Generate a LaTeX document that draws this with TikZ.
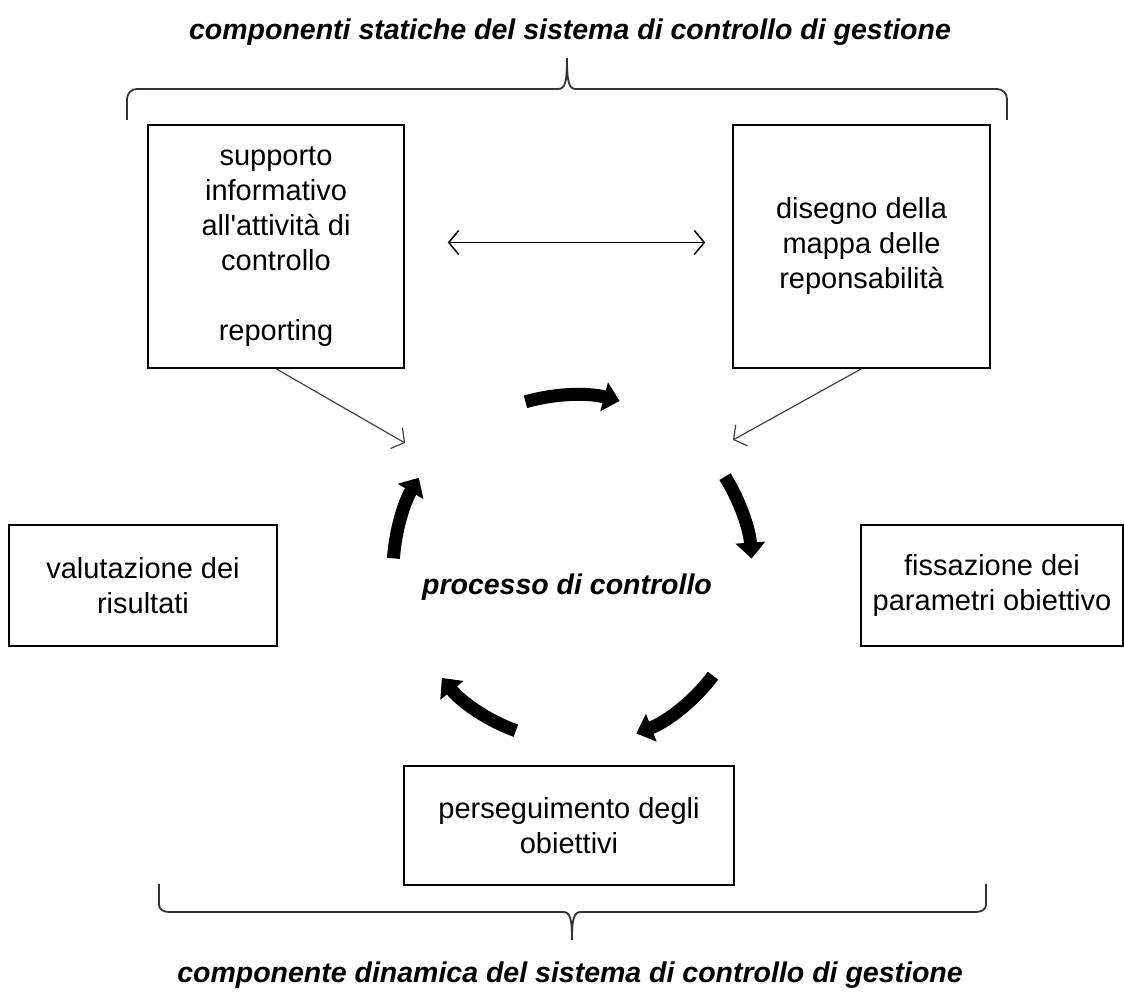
\documentclass[tikz,border=0pt]{standalone}
\usepackage{fontspec}
\setmainfont{Liberation Sans}
\usetikzlibrary{arrows.meta}

\tikzset{
  txt/.style={font=\fontsize{29}{35}\selectfont},
  ttl/.style={font=\fontsize{28.5}{35}\selectfont\bfseries\itshape},
  box/.style={draw, line width=1.5pt, align=center, inner sep=0pt, txt},
  cyc/.style={line width=13pt, -{Triangle[width=29pt,length=16pt]}},
  thinarr/.style={line width=1.2pt, draw=black!75, -{Straight Barb[length=9pt,width=24pt]}},
  dblarr/.style={line width=1.5pt, {Straight Barb[length=10pt,width=24pt]}-{Straight Barb[length=10pt,width=24pt]}},
  brc/.style={line width=1.8pt, draw=black!80},
}

\begin{document}
\begin{tikzpicture}[x=1pt,y=1pt]
\useasboundingbox (0,0) rectangle (1124,1003);

% titles
\node[ttl] (stat) at (570,971) {componenti statiche del sistema di controllo di gestione};
\node[ttl] (dyn) at (570,28) {componente dinamica del sistema di controllo di gestione};

% static components
\node[box, minimum width=256pt, minimum height=243pt] (lbox) at (276,756.5)
  {supporto\\informativo\\all\textquotesingle attività di\\controllo\\[35pt]reporting};
\node[box, minimum width=257pt, minimum height=243pt] (rbox) at (861.5,756.5)
  {disegno della\\mappa delle\\reponsabilità};
\draw[dblarr] ([xshift=43pt,yshift=4pt]lbox.east) -- ([xshift=-27pt,yshift=4pt]rbox.west);

% dynamic components
\node[box, minimum width=268pt, minimum height=121pt] (valbox) at (143,417.5)
  {valutazione dei\\risultati};
\node[box, minimum width=262pt, minimum height=121pt] (fisbox) at (992,417.5)
  {fissazione dei\\parametri obiettivo};
\node[box, minimum width=330pt, minimum height=119pt] (perbox) at (569,177.5)
  {perseguimento degli\\obiettivi};

% control cycle
\coordinate (ctr) at (574,432);
\node[ttl] (proc) at (567,416) {processo di controllo};
\draw[cyc] (ctr) ++(106:176) arc[start angle=106, end angle=75, radius=176];
\draw[cyc] (ctr) ++(32:178) arc[start angle=32, end angle=4, radius=178];
\draw[cyc] (ctr) ++(-37:174) arc[start angle=-37, end angle=-69, radius=174];
\draw[cyc] (ctr) ++(-110:170) arc[start angle=-110, end angle=-141, radius=170];
\draw[cyc] (ctr) ++(176:181) arc[start angle=176, end angle=149, radius=181];

% inputs to the cycle
\coordinate (lin) at (405,560);
\coordinate (rin) at (733,563);
\draw[thinarr] (lbox.south) -- (lin);
\draw[thinarr] (rbox.south) -- (rin);

% braces
\draw[brc] (127,883) -- (127,904) to[out=90,in=180] (137,914) -- (558,914)
  .. controls (565,914) and (567,920) .. (567,945)
  .. controls (567,920) and (569,914) .. (576,914) -- (997,914)
  to[out=0,in=90] (1007,904) -- (1007,883);
\draw[brc] (159,119) -- (159,98) to[out=-90,in=180] (169,91) -- (563,91)
  .. controls (570,91) and (572,85) .. (572,63)
  .. controls (572,85) and (574,91) .. (581,91) -- (976,91)
  to[out=0,in=-90] (986,98) -- (986,119);
\end{tikzpicture}
\end{document}
